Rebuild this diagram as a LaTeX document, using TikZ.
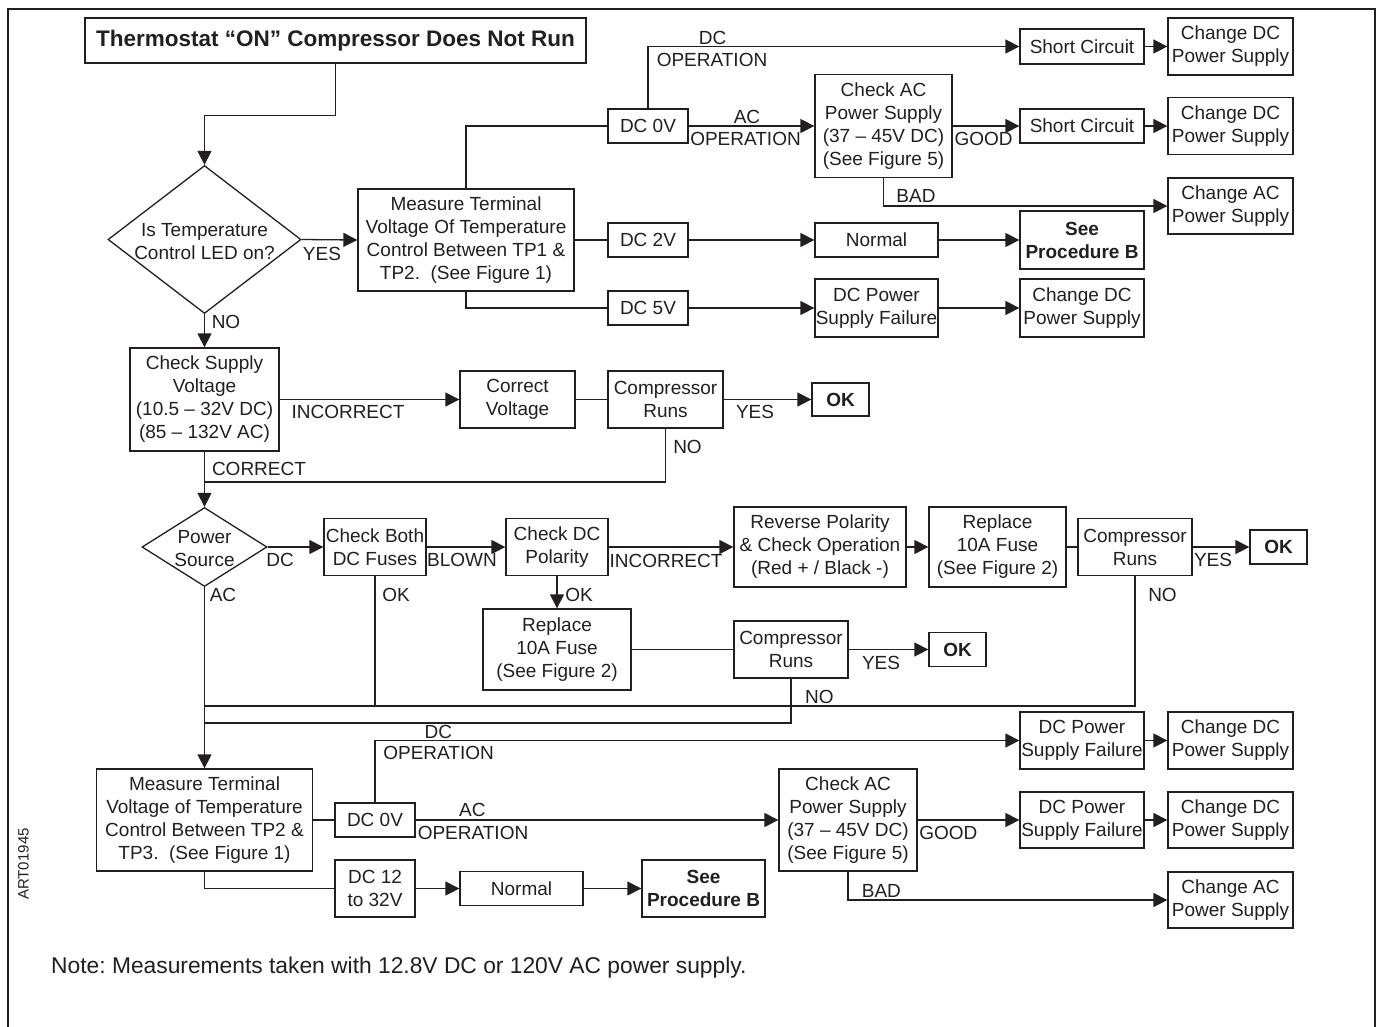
\documentclass[tikz,border=0pt]{standalone}
\usepackage{fontspec}
\setmainfont{Liberation Sans}
\usetikzlibrary{shapes.geometric,arrows.meta}
\definecolor{ink}{HTML}{231F20}
\tikzset{
  box/.style={draw=ink, line width=1.3pt, inner sep=0pt, align=center, text=ink,
              font=\fontsize{19}{23}\selectfont},
  dia/.style={draw=ink, line width=1.3pt, diamond, inner sep=0pt},
  lbl/.style={inner sep=0pt, text=ink, font=\fontsize{19}{23}\selectfont},
  ln/.style={draw=ink, line width=1.3pt},
  arr/.style={ln, -{Triangle[length=14pt,width=14pt]}},
}
\frenchspacing
\begin{document}
\begin{tikzpicture}[x=1pt,y=-1pt]
\useasboundingbox (0,0) rectangle (1380,1026);
\fill[white] (0,0) rectangle (1380,1026);
% frame
\draw[ink, line width=2.6pt] (8,1030) -- (8,9) -- (1375,9) -- (1375,1030);

% ---------- top section ----------
\node[box, minimum width=501, minimum height=45, font=\bfseries\fontsize{22.5}{27}\selectfont] (title) at (335.5,40.5) {Thermostat “ON” Compressor Does Not Run};
\node[dia, minimum width=193, minimum height=148] (d1) at (204.5,239.5) {};
\node[lbl, align=center] (d1t) at ([yshift=-2]d1.center) {Is Temperature\\Control LED on?};
\node[box, minimum width=216, minimum height=102] (m1) at (466,240) {Measure Terminal\\Voltage Of Temperature\\Control Between TP1 \&\\TP2.\ \ (See Figure 1)};
\node[box, minimum width=80, minimum height=34] (dc0a) at (648,126) {DC 0V};
\node[box, minimum width=80, minimum height=34] (dc2) at (648,240) {DC 2V};
\node[box, minimum width=80, minimum height=34] (dc5) at (648,308) {DC 5V};
\node[box, minimum width=124, minimum height=35] (sc1) at (1082,46.5) {Short Circuit};
\node[box, minimum width=125, minimum height=57] (chdc1) at (1230.5,46.5) {Change DC\\Power Supply};
\node[box, minimum width=137, minimum height=103] (chk1) at (883.5,126) {Check AC\\Power Supply\\(37 – 45V DC)\\(See Figure 5)};
\node[box, minimum width=124, minimum height=34] (sc2) at (1082,126) {Short Circuit};
\node[box, minimum width=125, minimum height=57] (chdc2) at (1230.5,126) {Change DC\\Power Supply};
\node[box, minimum width=125, minimum height=56] (chac1) at (1230.5,206) {Change AC\\Power Supply};
\node[box, minimum width=123, minimum height=34] (nor1) at (876.5,240) {Normal};
\node[box, minimum width=124, minimum height=58, font=\bfseries\fontsize{19}{23}\selectfont] (seeb1) at (1082,240) {See\\Procedure B};
\node[box, minimum width=123, minimum height=58] (psf1) at (876.5,308) {DC Power\\Supply Failure};
\node[box, minimum width=124, minimum height=58] (chdc3) at (1082,308) {Change DC\\Power Supply};

\draw[arr] (title.south) -- ++(0,52) -| (d1.north);
\draw[arr] (d1.east) -- (m1.west);
\draw[ln] (m1.north) |- (dc0a.west);
\draw[ln] (m1.east) -- (dc2.west);
\draw[ln] (m1.south) |- (dc5.west);
\draw[arr] (dc0a.north) |- (sc1.west);
\draw[arr] (dc0a.east) -- (chk1.west);
\draw[arr] (chk1.east) -- (sc2.west);
\draw[arr] (sc1.east) -- (chdc1.west);
\draw[arr] (sc2.east) -- (chdc2.west);
\draw[arr] (chk1.south) |- (chac1.west);
\draw[arr] (dc2.east) -- (nor1.west);
\draw[arr] (nor1.east) -- (seeb1.west);
\draw[arr] (dc5.east) -- (psf1.west);
\draw[arr] (psf1.east) -- (chdc3.west);

\node[lbl] (lyes1) at (322,254) {YES};
\node[lbl] (lno1) at (226,322) {NO};
\node[lbl] (ldc1) at (712.5,38.3) {DC};
\node[lbl] (lop1) at (712,60) {OPERATION};
\node[lbl] (lac1) at (747,116.7) {AC};
\node[lbl] (lop2) at (745.5,139.3) {OPERATION};
\node[lbl] (lgood1) at (983.6,139.3) {GOOD};
\node[lbl] (lbad1) at (916,196) {BAD};

% ---------- middle section ----------
\node[box, minimum width=149, minimum height=103] (sup) at (204.5,399.5) {Check Supply\\Voltage\\(10.5 – 32V DC)\\(85 – 132V AC)};
\node[box, minimum width=115, minimum height=57] (cv) at (517.5,399.5) {Correct\\Voltage};
\node[box, minimum width=115, minimum height=57] (cr1) at (665.5,399.5) {Compressor\\Runs};
\node[box, minimum width=57, minimum height=33, font=\bfseries\fontsize{19}{23}\selectfont] (ok1) at (840.5,399.5) {OK};
\node[dia, minimum width=125, minimum height=79] (d2) at (204.5,547) {};
\node[lbl, align=center] (d2t) at ([yshift=-1.5]d2.center) {Power\\Source};
\node[box, minimum width=102, minimum height=57] (cb) at (375,547) {Check Both\\DC Fuses};
\node[box, minimum width=102, minimum height=57] (pol) at (557,547) {Check DC\\Polarity};
\node[box, minimum width=172, minimum height=80] (rev) at (820,547) {Reverse Polarity\\\& Check Operation\\(Red + / Black -)};
\node[box, minimum width=137, minimum height=80] (rep1) at (997.5,547) {Replace\\10A Fuse\\(See Figure 2)};
\node[box, minimum width=114, minimum height=57] (cr3) at (1135,547) {Compressor\\Runs};
\node[box, minimum width=57, minimum height=34, font=\bfseries\fontsize{19}{23}\selectfont] (ok3) at (1278.5,547) {OK};
\node[box, minimum width=148, minimum height=81] (rep2) at (557,649.5) {Replace\\10A Fuse\\(See Figure 2)};
\node[box, minimum width=114, minimum height=57] (cr2) at (791,649.5) {Compressor\\Runs};
\node[box, minimum width=57, minimum height=34, font=\bfseries\fontsize{19}{23}\selectfont] (ok2) at (957.5,649.5) {OK};

\coordinate (jc) at (204.5,482);
\coordinate (j1) at (204.5,706);
\coordinate (j2) at (204.5,723);

\draw[arr] (d1.south) -- (sup.north);
\draw[arr] (sup.east) -- (cv.west);
\draw[ln] (cv.east) -- (cr1.west);
\draw[arr] (cr1.east) -- (ok1.west);
\draw[ln] (cr1.south) |- (jc);
\draw[arr] (sup.south) -- (d2.north);
\draw[arr] (d2.east) -- (cb.west);
\draw[arr] (cb.east) -- (pol.west);
\draw[arr] (pol.east) -- (rev.west);
\draw[arr] (rev.east) -- (rep1.west);
\draw[ln] (rep1.east) -- (cr3.west);
\draw[arr] (cr3.east) -- (ok3.west);
\draw[arr] (pol.south) -- (rep2.north);
\draw[ln] (rep2.east) -- (cr2.west);
\draw[arr] (cr2.east) -- (ok2.west);
\draw[ln] (cr3.south) |- (j1);
\draw[ln] (cb.south) -- (cb.south |- j1);
\draw[ln] (cr2.south) |- (j2);

\node[lbl] (linc1) at (348,411.7) {INCORRECT};
\node[lbl] (lyes2) at (755,412) {YES};
\node[lbl] (lno2) at (687.5,446.5) {NO};
\node[lbl] (lcor) at (259,469.3) {CORRECT};
\node[lbl] (ldc2) at (280,560) {DC};
\node[lbl] (lblown) at (462,560) {BLOWN};
\node[lbl] (linc2) at (666,561) {INCORRECT};
\node[lbl] (lyes3) at (1213,560) {YES};
\node[lbl] (lac2) at (223,595) {AC};
\node[lbl] (lok1) at (396,595) {OK};
\node[lbl] (lok2) at (579,595) {OK};
\node[lbl] (lno3) at (1162.5,595) {NO};
\node[lbl] (lyes4) at (881,662.7) {YES};
\node[lbl] (lno4) at (819.4,697.3) {NO};

% ---------- bottom section ----------
\node[box, minimum width=216, minimum height=102] (m2) at (204.5,820) {Measure Terminal\\Voltage of Temperature\\Control Between TP2 \&\\TP3.\ \ (See Figure 1)};
\node[box, minimum width=80, minimum height=34] (dc0b) at (375,820) {DC 0V};
\node[box, minimum width=80, minimum height=57] (dc12) at (375,888.5) {DC 12\\to 32V};
\node[box, minimum width=123, minimum height=34] (nor2) at (521.5,888.5) {Normal};
\node[box, minimum width=123, minimum height=57, font=\bfseries\fontsize{19}{23}\selectfont] (seeb2) at (703.5,888.5) {See\\Procedure B};
\node[box, minimum width=138, minimum height=102] (chk2) at (848,820) {Check AC\\Power Supply\\(37 – 45V DC)\\(See Figure 5)};
\node[box, minimum width=124, minimum height=57] (psf2) at (1082,740.5) {DC Power\\Supply Failure};
\node[box, minimum width=125, minimum height=57] (chdc4) at (1230.5,740.5) {Change DC\\Power Supply};
\node[box, minimum width=124, minimum height=56] (psf3) at (1082,820) {DC Power\\Supply Failure};
\node[box, minimum width=125, minimum height=56] (chdc5) at (1230.5,820) {Change DC\\Power Supply};
\node[box, minimum width=125, minimum height=56] (chac2) at (1230.5,900) {Change AC\\Power Supply};

\draw[arr] (d2.south) -- (m2.north);
\draw[ln] (m2.east) -- (dc0b.west);
\draw[arr] (dc0b.north) |- (psf2.west);
\draw[arr] (dc0b.east) -- (chk2.west);
\draw[arr] (chk2.east) -- (psf3.west);
\draw[arr] (psf2.east) -- (chdc4.west);
\draw[arr] (psf3.east) -- (chdc5.west);
\draw[arr] (chk2.south) |- (chac2.west);
\draw[ln] (m2.south) |- (dc12.west);
\draw[arr] (dc12.east) -- (nor2.west);
\draw[arr] (nor2.east) -- (seeb2.west);

\node[lbl] (ldc3) at (438.4,731.7) {DC};
\node[lbl] (lop3) at (438.6,753.3) {OPERATION};
\node[lbl] (lac3) at (472.3,810) {AC};
\node[lbl] (lop4) at (473,833.3) {OPERATION};
\node[lbl] (lgood2) at (948.4,833.3) {GOOD};
\node[lbl] (lbad2) at (881.4,890.7) {BAD};

\node[lbl, anchor=base west, font=\fontsize{22.8}{27}\selectfont] (note) at (51,973) {Note: Measurements taken with 12.8V DC or 120V AC power supply.};
\node[inner sep=0pt, text=ink, font=\fontsize{15}{18}\selectfont, rotate=90] (art) at (23.5,864) {ART01945};
\end{tikzpicture}
\end{document}
